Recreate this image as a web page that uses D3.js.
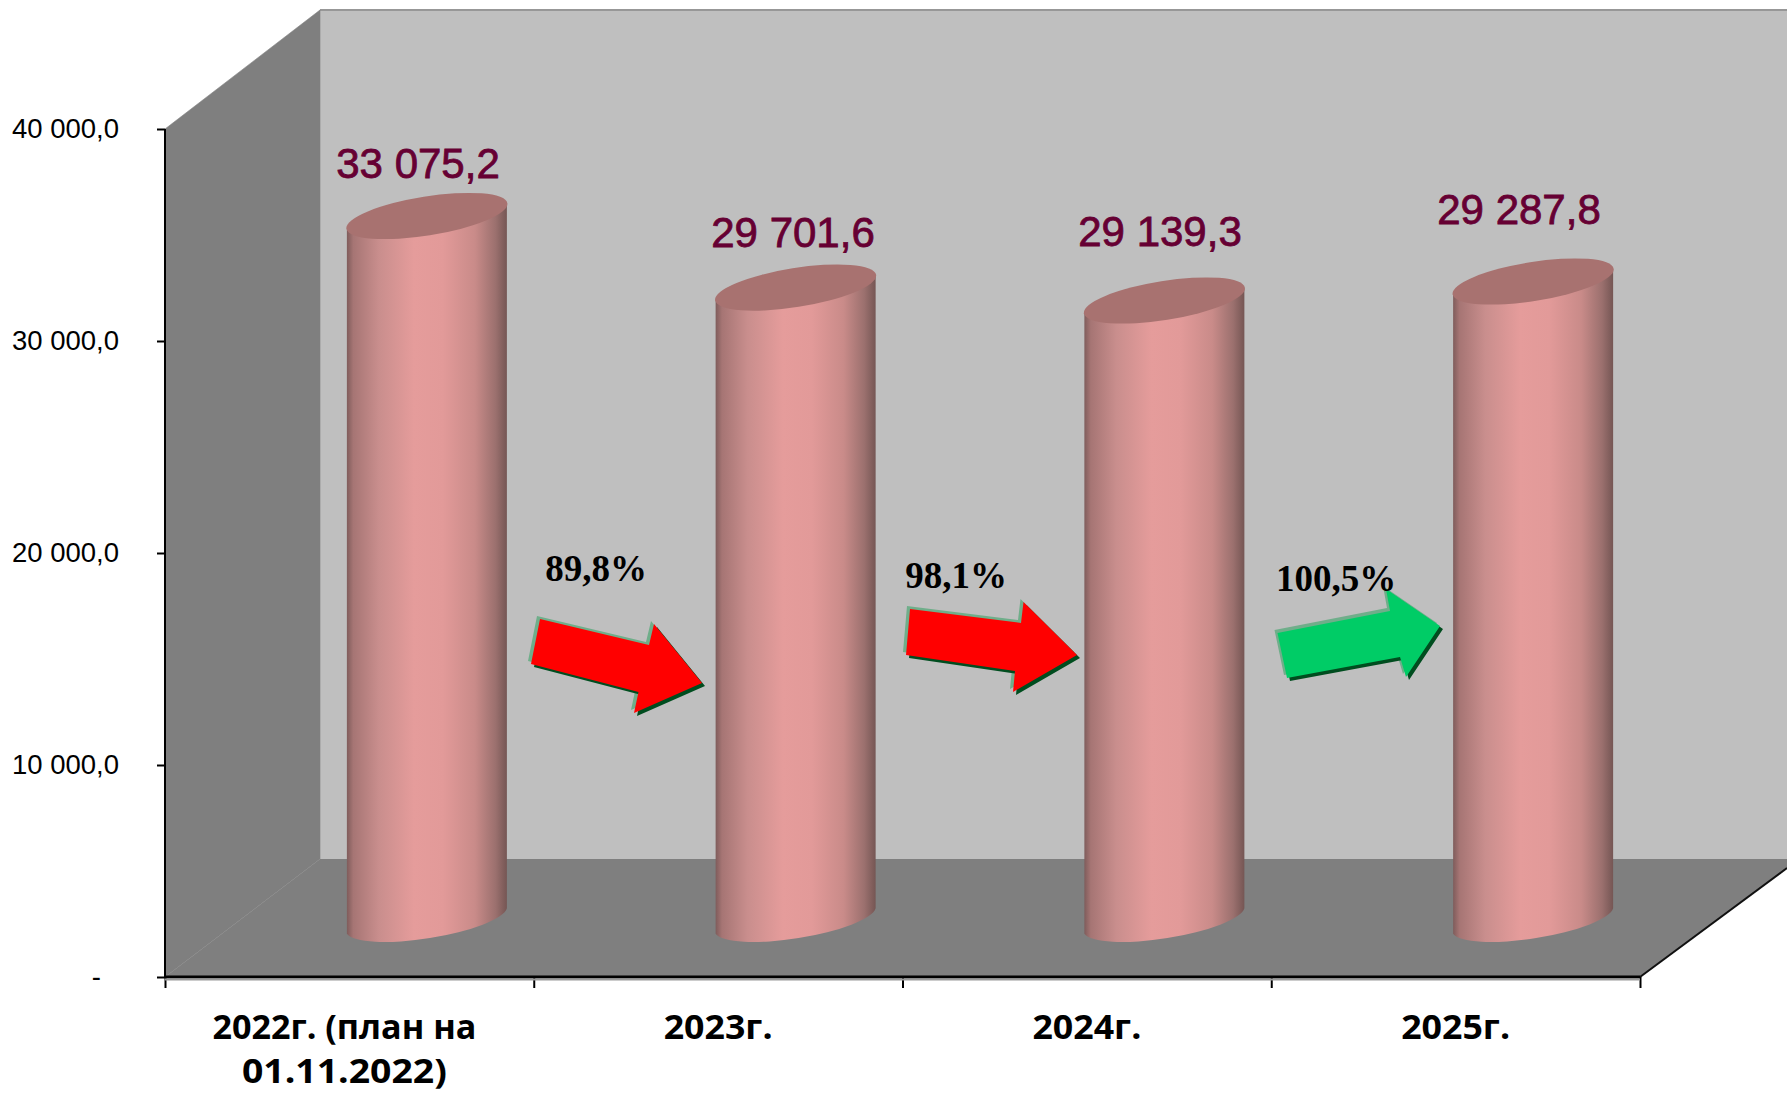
<!DOCTYPE html>
<html><head><meta charset="utf-8">
<script src="https://cdn.jsdelivr.net/npm/d3@7"></script>
<style>html,body{margin:0;padding:0;background:#fff;overflow:hidden}svg{display:block}</style>
</head><body><div id="chart"></div>
<script>
const categories = [["2022г. (план на","01.11.2022)"],["2023г."],["2024г."],["2025г."]];
const valueLabels = ["33 075,2","29 701,6","29 139,3","29 287,8"];
// cylinder heights as they are drawn in the picture (slightly differ from labels)
const drawnValues = [33255,29880,29269,30165];
const yTicks = [0,10000,20000,30000,40000];
const yTickLabels = ["-","10 000,0","20 000,0","30 000,0","40 000,0"];
const changeLabels = ["89,8%","98,1%","100,5%"];
const changeColors = ["#ff0000","#ff0000","#00cc66"];

// layout
const W=1787,H=1093;
const plot={l:165,r:1640,top:129,bottom:977,dx:155,dy:118};
const floorOffset=56;
const labelPos=[[418,178],[793,247],[1160,246],[1519,224]];
const changePos=[[596,581],[956,588],[1336,591]];
const catWidths=[[264,205],[109],[109],[109]];
const catShift=[-5,0,0,0];
const arrows=[
 [[540,619],[649,645],[654,624],[702,683],[634,713],[638.5,692],[531,664]],
 [[910,609],[1021,623],[1023.5,602],[1077,655],[1013,692],[1015,671],[906,655]],
 [[1277.5,633],[1390,611],[1386,589],[1440,626],[1406,677],[1400,657],[1287,678]]
];

const svg=d3.select("#chart").append("svg").attr("width",W).attr("height",H);
const y=d3.scaleLinear().domain([0,40000]).range([plot.bottom,plot.top]);
const xBand=d3.scaleBand().domain(d3.range(categories.length)).range([plot.l,plot.r]);
const xEdge=d3.scaleLinear().domain([0,4]).range([plot.l,plot.r]);

const defs=svg.append("defs");
const g=defs.append("linearGradient").attr("id","cyl");
[[0,"#7f5c5b"],[.04,"#a67574"],[.2,"#c98e8d"],[.42,"#e59c9b"],[.6,"#e29a99"],[.8,"#c98b89"],[.93,"#9b706e"],[1,"#755654"]]
 .forEach(d=>g.append("stop").attr("offset",d[0]).attr("stop-color",d[1]));

// walls
const line=d3.line();
const backX=plot.l+plot.dx, backTop=plot.top-plot.dy-1, backBot=plot.bottom-plot.dy;
svg.append("rect").attr("x",backX).attr("y",backTop).attr("width",W-backX).attr("height",backBot-backTop).attr("fill","#bfbfbf");
svg.append("line").attr("x1",backX).attr("x2",W).attr("y1",backTop).attr("y2",backTop).attr("stroke","#979797").attr("stroke-width",2);
svg.append("path").attr("d",line([[plot.l,plot.top],[backX,backTop],[backX,backBot],[plot.l,plot.bottom]])+"Z").attr("fill","#7f7f7f").attr("stroke","#7f7f7f").attr("stroke-width",.6);
svg.append("path").attr("d",line([[plot.l,plot.bottom],[backX,backBot],[W,backBot],[W,868],[plot.r,plot.bottom]])+"Z").attr("fill","#7f7f7f");
svg.append("line").attr("x1",plot.r).attr("y1",plot.bottom).attr("x2",W).attr("y2",868).attr("stroke","#111").attr("stroke-width",2);

// axes
const yAxis=d3.axisLeft(y).tickValues(yTicks).tickSize(8).tickPadding(38).tickFormat((d,i)=>yTickLabels[i]);
const ya=svg.append("g").attr("transform",`translate(${plot.l},0)`).call(yAxis);
ya.selectAll("path,line").attr("stroke","#000").attr("stroke-width",2);
ya.select(".domain").attr("d",`M0,${plot.top}V${plot.bottom}`);
ya.selectAll("text").attr("font-family","Liberation Sans").attr("font-size",27.5).attr("fill","#000")
  .attr("dx",(d)=>d===0?"-18":0);
const xAxis=d3.axisBottom(xEdge).tickValues(d3.range(5)).tickSize(11).tickFormat("");
const xa=svg.append("g").attr("transform",`translate(0,${plot.bottom})`).call(xAxis);
xa.selectAll("path,line").attr("stroke","#000").attr("stroke-width",2);
xa.select(".domain").attr("d",`M${plot.l},0H${plot.r}`).attr("stroke-width",3);
svg.append("line").attr("x1",plot.l).attr("x2",plot.r).attr("y1",plot.bottom+2.5).attr("y2",plot.bottom+2.5).attr("stroke","#9a9a9a").attr("stroke-width",2);

// cylinders
const rx=81.5,ry=19.5,rot=-9,sin=Math.sin(-rot*Math.PI/180)*rx,halfW=80;
const cx=i=>xBand(i)+xBand.bandwidth()/2+plot.dx/2;
const cyl=svg.selectAll("g.cyl").data(drawnValues).join("g").attr("class","cyl");
cyl.append("path").attr("fill","url(#cyl)").attr("d",(v,i)=>{
  const t=y(v)-floorOffset,b=y(0)-floorOffset,c=cx(i);
  return `M${c-halfW},${t+sin}L${c-halfW},${b+sin}A${rx},${ry} ${rot} 0 0 ${c+halfW},${b-sin}L${c+halfW},${t-sin}A${rx},${ry} ${rot} 0 1 ${c-halfW},${t+sin}Z`;
});
cyl.append("ellipse").attr("fill","#a87270").attr("rx",rx).attr("ry",ry)
  .attr("transform",(v,i)=>`translate(${cx(i)},${y(v)-floorOffset}) rotate(${rot})`);

// value labels
svg.selectAll("text.val").data(valueLabels).join("text").attr("class","val")
  .attr("x",(d,i)=>labelPos[i][0]).attr("y",(d,i)=>labelPos[i][1])
  .attr("text-anchor","middle").attr("font-family","Liberation Sans").attr("font-size",42)
  .attr("fill","#660033").attr("stroke","#660033").attr("stroke-width",.8).text(d=>d);

// arrows
arrows.forEach((p,i)=>{
  const d=line(p)+"Z";
  svg.append("path").attr("d",d).attr("fill","#6fae8a").attr("transform","translate(-3,-3)");
  svg.append("path").attr("d",d).attr("fill","#004d1f").attr("transform","translate(3,3)");
  svg.append("path").attr("d",d).attr("fill",changeColors[i]);
});
svg.selectAll("text.chg").data(changeLabels).join("text").attr("class","chg")
  .attr("x",(d,i)=>changePos[i][0]).attr("y",(d,i)=>changePos[i][1])
  .attr("text-anchor","middle").attr("font-family","Liberation Serif").attr("font-weight",700)
  .attr("font-size",37).attr("fill","#000").text(d=>d);

// category labels
const catBase=[1039,1083];
categories.forEach((lines,i)=>lines.forEach((t,k)=>{
  svg.append("text").attr("x",xBand(i)+xBand.bandwidth()/2+catShift[i]).attr("y",catBase[k])
   .attr("text-anchor","middle").attr("font-family","Open Sans").attr("font-weight",700)
   .attr("font-size",34).attr("textLength",catWidths[i][k]).attr("lengthAdjust","spacingAndGlyphs")
   .attr("fill","#000").text(t);
}));
</script></body></html>
